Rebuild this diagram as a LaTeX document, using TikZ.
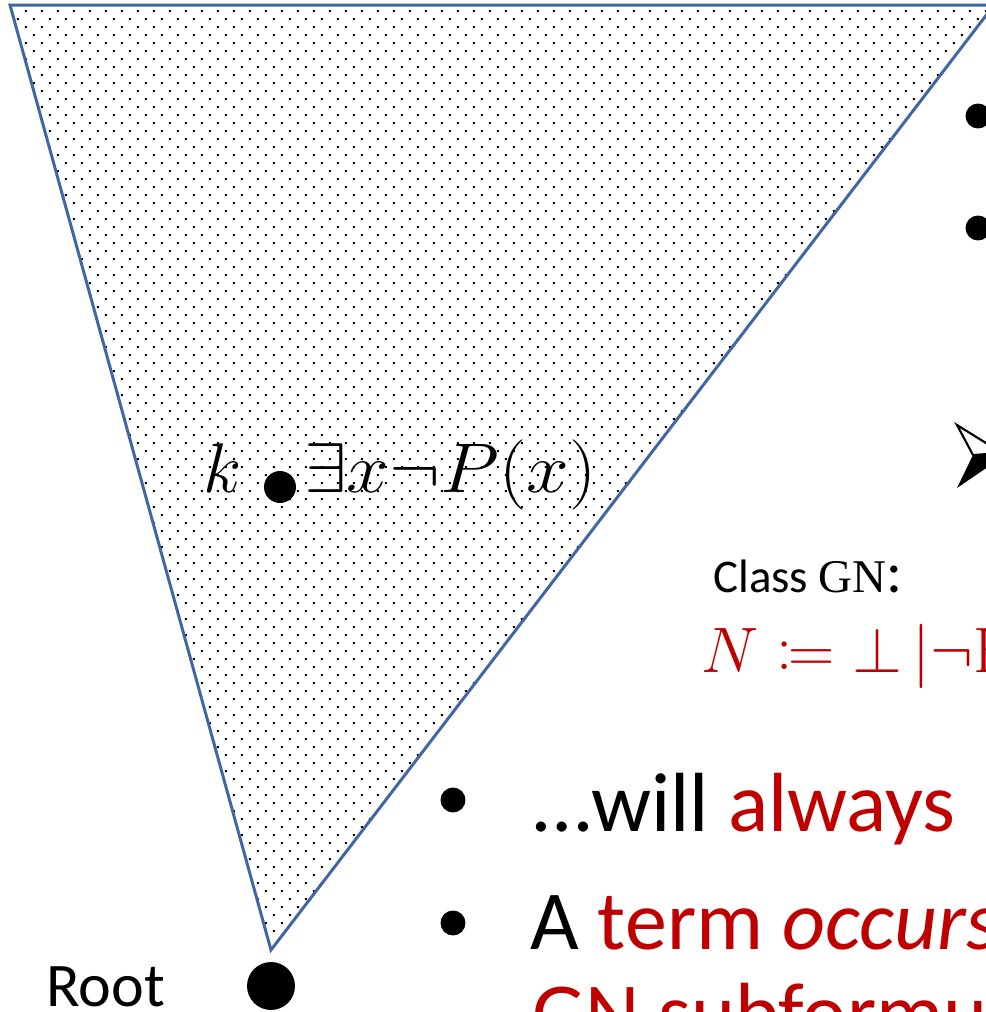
\RequirePackage{fix-cm}
\documentclass[tikz,border=0pt]{standalone}
\usepackage{amsmath,amssymb}
\usepackage{mathtools}
\usepackage{graphicx}
\usepackage[no-math]{fontspec}
\setmainfont{Carlito}
\newfontfamily\gnserif{Liberation Serif}
\usepackage{xcolor}
\usetikzlibrary{patterns,positioning}
\definecolor{gnred}{HTML}{C00000}
\definecolor{triblue}{HTML}{4266A3}
\pgfdeclarepatternformonly{gndots}{\pgfpointorigin}{\pgfqpoint{9.1pt}{9.1pt}}{\pgfqpoint{9.1pt}{9.1pt}}{%
  \pgfpathrectangle{\pgfqpoint{0.5pt}{0.5pt}}{\pgfqpoint{1.2pt}{1.2pt}}%
  \pgfpathrectangle{\pgfqpoint{5.05pt}{5.05pt}}{\pgfqpoint{1.2pt}{1.2pt}}%
  \pgfusepath{fill}}

\begin{document}
\begin{tikzpicture}[
  x=0.02cm, y=-0.02cm,
  tri/.style={draw=triblue, line width=1.7pt, line join=miter, pattern=gndots},
  bigdot/.style={circle, fill=black, inner sep=0pt, minimum size=#1},
  bullet/.style={circle, fill=black, inner sep=0pt, minimum size=14.2pt},
  body/.style={anchor=base west, inner sep=0pt, font=\fontsize{47.8}{52}\selectfont},
  every node/.style={inner sep=0pt}
]
  \useasboundingbox (0,0) rectangle (986,1012);
  \fill[white] (0,0) rectangle (986,1012);

  % the shaded tree above the root
  \draw[tri] (10,5) -- (994,5) -- (271,950) -- cycle;

  % world k and its formula
  \node[bigdot=18.2pt] (kdot) at (280,487) {};
  \node[anchor=base west, font=\fontsize{40}{44}\selectfont] (klabel) at (203,492) {$k$};
  \node[anchor=base west, font=\fontsize{40}{44}\selectfont] (formula) at (304,492)
    {\scalebox{1.09}[1]{$\exists x\neg P(x)$}};

  % root
  \node[bigdot=27.3pt] (rootdot) at (271,986) {};
  \node[anchor=base west, font=\fontsize{35.3}{40}\selectfont] (rootlabel) at (46,1006) {Root};

  % cut-off bullets on the right
  \node[bullet] (rb1) at (978,116) {};
  \node[bullet] (rb2) at (978,228) {};
  \coordinate (arrtip) at (1002,453);
  \coordinate (arrnotch) at (973,455);
  \draw[fill=white, line width=1.2pt, line join=miter] (957,425) -- (arrtip) -- (arrnotch) -- cycle;
  \fill (arrnotch) -- (arrtip) -- (995,462) -- (957,488) -- cycle;

  % class GN
  \node[anchor=base west, font=\fontsize{26.7}{30}\selectfont] (classgn) at (713,592)
    {Class {\gnserif GN}\raisebox{-0.5pt}{\fontsize{34}{36}\selectfont :}};
  \node[anchor=base west, text=gnred, font=\fontsize{36.6}{40}\selectfont] (grammar) at (701,672)
    {$N \coloneqq \bot\,|{\neg}\mathrm{E}$};

  % bullet text
  \node[bullet] (b1) at (453,800) {};
  \node[bullet] (b2) at (453,923) {};
  \node[body] (line1) at (533,831) {…will \textcolor{gnred}{always}};
  \node[body] (line2) at (530,949) {A \textcolor{gnred}{term \textit{occurs}}};
  \node[body, text=gnred] (line3) at (532,1041) {GN subformu};
\end{tikzpicture}
\end{document}
